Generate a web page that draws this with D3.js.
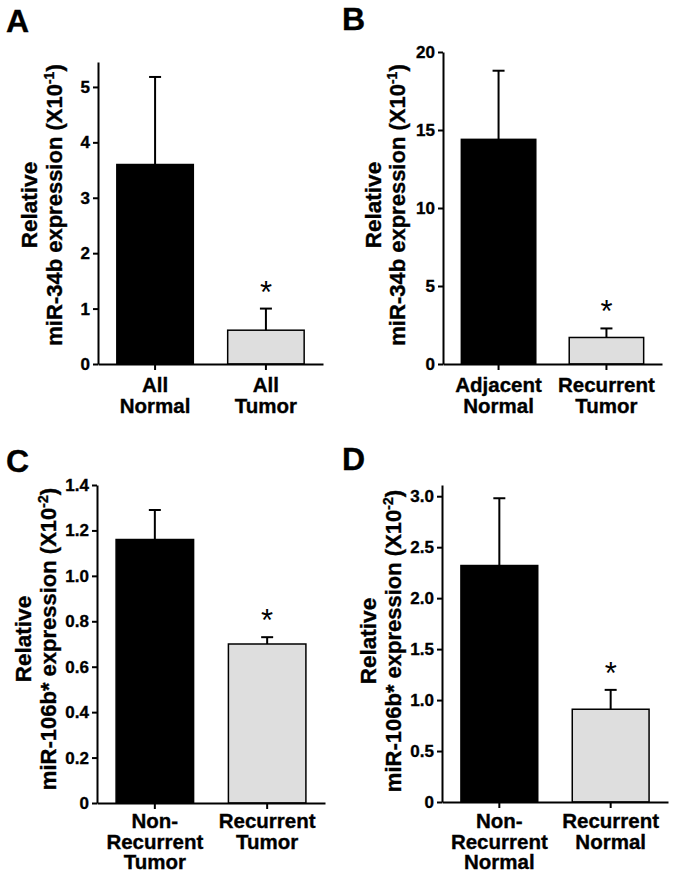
<!DOCTYPE html>
<html>
<head>
<meta charset="utf-8">
<script src="https://cdn.jsdelivr.net/npm/d3@7"></script>
<style>
  html, body { margin: 0; padding: 0; background: #fff; }
  svg text { font-family: "Liberation Sans", Arial, sans-serif; fill: #000; }
  svg text.heavy { stroke: #000; stroke-width: 0.35px; }
</style>
</head>
<body>
<svg id="chart" width="676" height="877"></svg>
<script>
// ---------- data ----------
const categoriesA = [["All", "Normal"], ["All", "Tumor"]];
const meansA = [3.6, 0.61];
const errA = [1.58, 0.39];
const ticksA = [0, 1, 2, 3, 4, 5];
const titleA = ["miR-34b expression (X10", "-1", ")"];

const categoriesB = [["Adjacent", "Normal"], ["Recurrent", "Tumor"]];
const meansB = [14.4, 1.7];
const errB = [4.4, 0.58];
const ticksB = [0, 5, 10, 15, 20];
const titleB = ["miR-34b expression (X10", "-1", ")"];

const categoriesC = [["Non-", "Recurrent", "Tumor"], ["Recurrent", "Tumor"]];
const meansC = [1.16, 0.70];
const errC = [0.13, 0.03];
const ticksC = [0, 0.2, 0.4, 0.6, 0.8, 1.0, 1.2, 1.4];
const titleC = ["miR-106b* expression (X10", "-2", ")"];

const categoriesD = [["Non-", "Recurrent", "Normal"], ["Recurrent", "Normal"]];
const meansD = [2.32, 0.91];
const errD = [0.66, 0.19];
const ticksD = [0, 0.5, 1.0, 1.5, 2.0, 2.5, 3.0];
const titleD = ["miR-106b* expression (X10", "-2", ")"];

const barColors = ["#000000", "#dedede"];
const sigMarks = ["", "*"];

// ---------- layout ----------
const panels = [
  { letter: "A", lx: 6, ly: 32, x0: 98, x1: 323, yTop: 62, yBot: 364, max: 5.45,
    cats: categoriesA, means: meansA, err: errA, ticks: ticksA, fmt: d3.format("d"),
    title: titleA, t1x: 37, t2x: 62, tcy: 205, labOff: 28 },
  { letter: "B", lx: 342, ly: 30, x0: 443, x1: 662, yTop: 52, yBot: 364, max: 20,
    cats: categoriesB, means: meansB, err: errB, ticks: ticksB, fmt: d3.format("d"),
    title: titleB, t1x: 381, t2x: 405, tcy: 205, labOff: 28 },
  { letter: "C", lx: 6, ly: 472, x0: 97, x1: 325, yTop: 485, yBot: 803, max: 1.4,
    cats: categoriesC, means: meansC, err: errC, ticks: ticksC,
    fmt: v => v === 0 ? "0" : d3.format(".1f")(v),
    title: titleC, t1x: 31, t2x: 56, tcy: 639, labOff: 25 },
  { letter: "D", lx: 342, ly: 470, x0: 442, x1: 668, yTop: 485, yBot: 802, max: 3.11,
    cats: categoriesD, means: meansD, err: errD, ticks: ticksD,
    fmt: v => v === 0 ? "0" : d3.format(".1f")(v),
    title: titleD, t1x: 376, t2x: 401, tcy: 641, labOff: 26 }
];

const svg = d3.select("#chart");

panels.forEach(p => {
  const g = svg.append("g");
  const idx = p.means.map((_, i) => i);

  const x = d3.scaleBand().domain(idx).range([p.x0, p.x1])
    .paddingInner(0.31).paddingOuter(0.17);
  const y = d3.scaleLinear().domain([0, p.max]).range([p.yBot, p.yTop]);

  // panel letter
  g.append("text").attr("class", "heavy").attr("x", p.lx).attr("y", p.ly)
    .attr("font-size", 32).attr("font-weight", "bold").text(p.letter);

  // bars
  g.selectAll("rect.bar").data(idx).join("rect")
    .attr("class", "bar")
    .attr("x", i => x(i))
    .attr("width", x.bandwidth())
    .attr("y", i => y(p.means[i]))
    .attr("height", i => y(0) - y(p.means[i]))
    .attr("fill", i => barColors[i])
    .attr("stroke", "#000").attr("stroke-width", 1.5);

  // error bars (upper only)
  const cx = i => x(i) + x.bandwidth() / 2;
  g.selectAll("line.err").data(idx).join("line")
    .attr("x1", cx).attr("x2", cx)
    .attr("y1", i => y(p.means[i])).attr("y2", i => y(p.means[i] + p.err[i]))
    .attr("stroke", "#000").attr("stroke-width", 2);
  g.selectAll("line.cap").data(idx).join("line")
    .attr("x1", i => cx(i) - 6).attr("x2", i => cx(i) + 6)
    .attr("y1", i => y(p.means[i] + p.err[i])).attr("y2", i => y(p.means[i] + p.err[i]))
    .attr("stroke", "#000").attr("stroke-width", 2);

  // significance marks
  g.selectAll("text.sig").data(idx).join("text")
    .attr("class", "sig")
    .attr("x", cx)
    .attr("y", i => y(p.means[i] + p.err[i]) - 6)
    .attr("text-anchor", "middle")
    .attr("font-size", 31)
    .text(i => sigMarks[i]);

  // y axis
  const ya = g.append("g").attr("transform", `translate(${p.x0},0)`)
    .call(d3.axisLeft(y).tickValues(p.ticks).tickFormat(p.fmt)
      .tickSize(5).tickSizeOuter(0).tickPadding(3));
  ya.select(".domain").attr("stroke", "#000").attr("stroke-width", 2);
  ya.selectAll(".tick line").attr("stroke", "#000").attr("stroke-width", 2);
  ya.selectAll(".tick text").attr("class", "heavy").attr("font-size", 17).attr("font-weight", "bold")
    .attr("fill", "#000").style("font-family", '"Liberation Sans", Arial, sans-serif');

  // x axis
  const xa = g.append("g").attr("transform", `translate(0,${p.yBot})`)
    .call(d3.axisBottom(x).tickSize(6).tickSizeOuter(0).tickFormat(""));
  xa.select(".domain").attr("stroke", "#000").attr("stroke-width", 2);
  xa.selectAll(".tick line").attr("stroke", "#000").attr("stroke-width", 2);

  // category labels
  idx.forEach(i => {
    const t = g.append("text").attr("class", "heavy").attr("text-anchor", "middle")
      .attr("font-size", 20.5).attr("font-weight", "bold");
    p.cats[i].forEach((line, k) => {
      t.append("tspan").attr("x", cx(i)).attr("y", p.yBot + p.labOff + k * 20.5).text(line);
    });
  });

  // y title
  g.append("text").attr("class", "heavy")
    .attr("transform", `translate(${p.t1x},${p.tcy}) rotate(-90)`)
    .attr("text-anchor", "middle").attr("font-size", 22.5).attr("font-weight", "bold")
    .text("Relative");
  const t2 = g.append("text").attr("class", "heavy")
    .attr("transform", `translate(${p.t2x},${p.tcy}) rotate(-90)`)
    .attr("text-anchor", "middle").attr("font-size", 22).attr("font-weight", "bold");
  t2.append("tspan").text(p.title[0]);
  t2.append("tspan").attr("font-size", 14).attr("dy", -8).text(p.title[1]);
  t2.append("tspan").attr("dy", 8).text(p.title[2]);
});
</script>
</body>
</html>
